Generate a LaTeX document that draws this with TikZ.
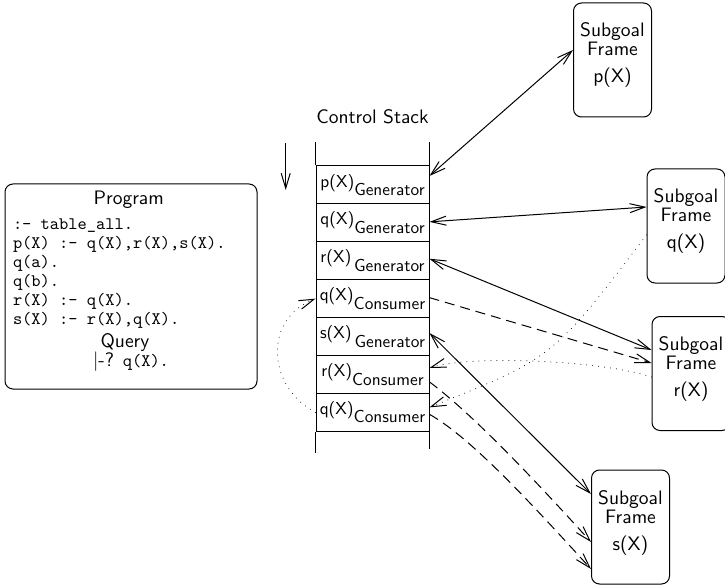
\documentclass[tikz,border=0pt]{standalone}
\usepackage{fontspec}
\setsansfont{lmsans10-regular.otf}
\setmonofont{lmmono10-regular.otf}
\usetikzlibrary{arrows.meta}
\newcommand\cellsub[1]{\raisebox{-8.5pt}{#1}}
\begin{document}
\begin{tikzpicture}[x=1pt,y=-1pt,line width=1pt,
  >={Straight Barb[length=15pt,width=9pt]},
  frame/.style={draw,rounded corners=8pt,minimum width=78pt,minimum height=114pt,inner sep=0pt},
  ftext/.style={font=\sffamily\fontsize{19.5}{20}\selectfont,anchor=base,inner sep=0pt},
  cell/.style={draw,minimum width=113pt,minimum height=37.9pt,inner sep=0pt,font=\sffamily\fontsize{17.3}{18}\selectfont},
  prog/.style={font=\ttfamily\fontsize{17.6}{19}\selectfont,anchor=base west,inner sep=0pt},
  lbl/.style={font=\sffamily\fontsize{19.5}{20}\selectfont,anchor=base,inner sep=0pt},
  dsh/.style={dash pattern=on 10pt off 6pt},
  dts/.style={dash pattern=on 0pt off 6pt,line cap=round}]
\useasboundingbox (0,0) rectangle (725,585);
\clip (0,0) rectangle (725,585);

% Program box
\node[draw,rounded corners=8pt,minimum width=252pt,minimum height=205pt,inner sep=0pt] (progbox) at (131,286.5) {};
\node[lbl] (ptitle) at (128.7,205) {Program};
\node[prog] (l1) at (12.5,229.5) {:- table\_all.};
\node[prog] (l2) at (12.5,248.5) {p(X) :- q(X),r(X),s(X).};
\node[prog] (l3) at (12.5,267.5) {q(a).};
\node[prog] (l4) at (12.5,286.5) {q(b).};
\node[prog] (l5) at (12.5,305.5) {r(X) :- q(X).};
\node[prog] (l6) at (12.5,324.5) {s(X) :- r(X),q(X).};
\node[lbl] (qtitle) at (125,347) {Query};
\node[lbl] (qline) at (131,366) {|-? \ttfamily\fontsize{17.6}{19}\selectfont q(X).};

% Control stack
\node[lbl] (cstitle) at (372.5,124) {Control Stack};
\coordinate (da1) at (285.7,143);
\coordinate (da2) at (285.7,190);
\draw[->] (da1) -- (da2);

\node[cell] (c1) at (372.5,184.95) {p(X)\cellsub{Generator}};
\node[cell] (c2) at (372.5,222.85) {q(X)\cellsub{Generator}};
\node[cell] (c3) at (372.5,260.75) {r(X)\,\cellsub{Generator}};
\node[cell] (c4) at (372.5,298.65) {q(X)\cellsub{Consumer}};
\node[cell] (c5) at (372.5,336.55) {s(X)\,\cellsub{Generator}};
\node[cell] (c6) at (372.5,374.45) {r(X)\cellsub{Consumer}};
\node[cell] (c7) at (372.5,412.35) {q(X)\cellsub{Consumer}};
\draw (c1.north west) -- ++(0,-23);
\draw (c1.north east) -- ++(0,-23);
\draw (c7.south west) -- ++(0,21.5);
\draw (c7.south east) -- ++(0,17);

% Subgoal frames
\node[frame] (pf) at (612.5,60) {};
\node[ftext] (pf1) at (612.5,37) {Subgoal};
\node[ftext] (pf2) at (612.5,56) {Frame};
\node[ftext] (pf3) at (612.5,83) {p(X)};

\node[frame] (qf) at (686,226) {};
\node[ftext] (qf1) at (686,203) {Subgoal};
\node[ftext] (qf2) at (686,222) {Frame};
\node[ftext] (qf3) at (686,249) {q(X)};

\node[frame] (rf) at (691,373.5) {};
\node[ftext] (rf1) at (691,350.5) {Subgoal};
\node[ftext] (rf2) at (691,369.5) {Frame};
\node[ftext] (rf3) at (691,396.5) {r(X)};

\node[frame] (sf) at (630.5,527) {};
\node[ftext] (sf1) at (630.5,504) {Subgoal};
\node[ftext] (sf2) at (630.5,523) {Frame};
\node[ftext] (sf3) at (630.5,550) {s(X)};

% Connectors
\draw[<->] ([yshift=9pt]c1.east) -- ([yshift=10pt]pf.west);
\draw[<->] ([yshift=1pt]c2.east) -- ([yshift=19pt]qf.west);
\draw[<->] ([yshift=2pt]c3.east) -- ([yshift=23.5pt]rf.west);
\draw[dsh,->] ([yshift=1pt]c4.east) -- ([yshift=10.5pt]rf.west);
\draw[<->] ([yshift=3.5pt]c5.east) -- ([yshift=33pt]sf.west);
\draw[dts,->] ([yshift=-3.5pt]rf.west) .. controls (600,360) and (470,355) .. ([yshift=6.5pt]c6.east);
\draw[dts,->] ([yshift=-9pt]qf.west) .. controls (553,358) .. ([yshift=5pt]c7.east);
\draw[dsh,->] ([yshift=-7.5pt]c6.east) .. controls (478,418) and (552,499) .. ([yshift=-15pt]sf.west);
\draw[dsh,->] ([yshift=-2pt]c7.east) .. controls (470,437) and (530,502) .. ([yshift=-42pt]sf.west);
\draw[dts,->] (c7.west) .. controls (268,388) and (262,320) .. (c4.west);
\end{tikzpicture}
\end{document}
